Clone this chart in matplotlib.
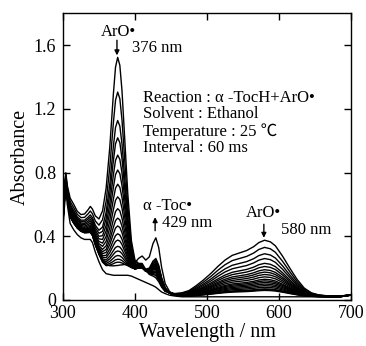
import matplotlib
matplotlib.use('Agg')
import matplotlib.pyplot as plt
import numpy as np

# wavelength grid (nm)
wavelength = [300, 302, 304, 306, 310, 315, 320, 325, 330, 335, 338, 341, 345, 350, 355,
              360, 365, 370, 373, 376, 379, 382, 386, 390, 395, 400, 405, 410, 415, 420,
              425, 429, 433, 437, 442, 448, 455, 465, 475, 485, 495, 505, 515, 525, 535,
              545, 555, 565, 572, 580, 588, 595, 605, 615, 625, 635, 645, 655, 665, 675,
              685, 692, 700]

# spectrum with no radicals (bottom trace)
base_abs = [0.45, 0.58, 0.70, 0.60, 0.48, 0.44, 0.41, 0.39, 0.38, 0.38, 0.38, 0.36, 0.30, 0.24, 0.19,
            0.165, 0.16, 0.155, 0.155, 0.155, 0.155, 0.155, 0.155, 0.155, 0.15, 0.14, 0.13, 0.12, 0.11, 0.10,
            0.09, 0.08, 0.065, 0.05, 0.04, 0.03, 0.025, 0.02, 0.02, 0.02, 0.02, 0.02, 0.02, 0.02, 0.02,
            0.02, 0.02, 0.02, 0.02, 0.02, 0.02, 0.02, 0.02, 0.02, 0.02, 0.02, 0.02, 0.02, 0.02, 0.02,
            0.02, 0.025, 0.03]

# ArO* UV band, normalised at 376 nm
aro_uv_band = [0.10, 0.095, 0.065, 0.08, 0.11, 0.11, 0.10, 0.10, 0.11, 0.13, 0.145, 0.147, 0.16, 0.19, 0.265,
               0.39, 0.58, 0.83, 0.955, 1.0, 0.963, 0.845, 0.61, 0.37, 0.155, 0.07, 0.058, 0.062, 0.042, 0.024,
               0.013, 0.007, 0.005, 0.004, 0.002, 0, 0, 0, 0, 0, 0, 0, 0, 0, 0,
               0, 0, 0, 0, 0, 0, 0, 0, 0, 0, 0, 0, 0, 0, 0,
               0, 0, 0]

# ArO* visible band, normalised at 580 nm
aro_vis_band = [0] * 35 + [0.04, 0.04, 0.07, 0.11, 0.197, 0.296, 0.408, 0.535, 0.648, 0.732,
                           0.775, 0.817, 0.887, 0.958, 1.0, 0.972, 0.901, 0.718, 0.507, 0.31,
                           0.155, 0.07, 0.034, 0.02, 0.014, 0.014, 0.01, 0.01]

# alpha-Toc* band, normalised at 429 nm
toc_band = [0.2, 0.2, 0.2, 0.2, 0.2, 0.2, 0.2, 0.2, 0.2, 0.2, 0.2, 0.2, 0.2, 0.2, 0.18,
            0.16, 0.15, 0.15, 0.15, 0.15, 0.16, 0.17, 0.19, 0.22, 0.25, 0.30, 0.42, 0.50, 0.45, 0.55,
            0.85, 1.0, 0.85, 0.5, 0.2, 0.07, 0.02, 0, 0, 0, 0, 0, 0, 0, 0,
            0, 0, 0, 0, 0, 0, 0, 0, 0, 0, 0, 0, 0, 0, 0,
            0, 0, 0]

# band amplitudes for each trace (60 ms interval)
aro_uv_amp = [1.36, 1.14, 0.96, 0.85, 0.74, 0.645, 0.555, 0.475, 0.40, 0.34,
              0.29, 0.24, 0.20, 0.16, 0.13, 0.10, 0.075, 0.055, 0.015]
aro_vis_amp = [0.355, 0.31, 0.27, 0.24, 0.21, 0.19, 0.17, 0.155, 0.14, 0.125,
               0.11, 0.10, 0.09, 0.08, 0.07, 0.06, 0.05, 0.045, 0.04]
toc_amp = [0.05, 0.065, 0.075, 0.085, 0.095, 0.105, 0.11, 0.115, 0.12, 0.125,
           0.13, 0.135, 0.14, 0.145, 0.15, 0.16, 0.17, 0.18, 0.31]

x_ticks = [300, 400, 500, 600, 700]
y_ticks = [0, 0.4, 0.8, 1.2, 1.6]
y_tick_labels = ['0', '0.4', '0.8', '1.2', '1.6']

FONT = ['Liberation Serif', 'Noto Sans CJK JP', 'DejaVu Serif']


def arrow(ax, x, y_from, y_to):
    ax.annotate('', xy=(x, y_to), xytext=(x, y_from),
                arrowprops=dict(arrowstyle='-|>', color='black', lw=1.0,
                                mutation_scale=7, shrinkA=0, shrinkB=0))


def main():
    plt.rcParams['font.family'] = FONT

    fig = plt.figure(figsize=(3.66, 3.46), dpi=100)
    ax = fig.add_axes([0.172, 0.133, 0.787, 0.829])

    wl = np.array(wavelength)
    base = np.array(base_abs)
    uv = np.array(aro_uv_band)
    vis = np.array(aro_vis_band)
    toc = np.array(toc_band)

    ax.plot(wl, base, color='black', lw=1.0)
    for a, v, t in zip(aro_uv_amp, aro_vis_amp, toc_amp):
        ax.plot(wl, base + a * uv + v * vis + t * toc, color='black', lw=1.0)

    ax.set_xlim(300, 700)
    ax.set_ylim(0, 1.8)
    ax.set_xticks(x_ticks)
    ax.set_yticks(y_ticks)
    ax.set_yticklabels(y_tick_labels)
    ax.tick_params(direction='in', top=True, right=True, length=5, width=1,
                   labelsize=13)
    ax.tick_params(axis='x', pad=3.5)
    ax.tick_params(axis='y', pad=5)
    for s in ax.spines.values():
        s.set_linewidth(1.0)

    ax.set_xlabel('Wavelength / nm', fontsize=14.5, labelpad=0.5)
    ax.set_ylabel('Absorbance', fontsize=14.5, labelpad=3)

    # peak annotations
    fs = 12
    ax.text(377, 1.68, 'ArO•', ha='center', va='center', fontsize=fs)
    arrow(ax, 375, 1.63, 1.535)
    ax.text(396, 1.58, '376 nm', ha='left', va='center', fontsize=fs)

    ax.text(411, 0.59, 'α -Toc•', ha='left', va='center', fontsize=fs)
    arrow(ax, 428, 0.435, 0.52)
    ax.text(437, 0.48, '429 nm', ha='left', va='center', fontsize=fs)

    ax.text(578, 0.545, 'ArO•', ha='center', va='center', fontsize=fs)
    arrow(ax, 579, 0.475, 0.39)
    ax.text(603, 0.44, '580 nm', ha='left', va='center', fontsize=fs)

    info = ['Reaction : α -TocH+ArO•', 'Solvent : Ethanol',
            'Temperature : 25 ℃', 'Interval : 60 ms']
    for i, line in enumerate(info):
        ax.text(411, 1.27 - i * 0.106, line, ha='left', va='center', fontsize=fs)

    fig.savefig('out.png', dpi=100)


if __name__ == "__main__":
    main()
